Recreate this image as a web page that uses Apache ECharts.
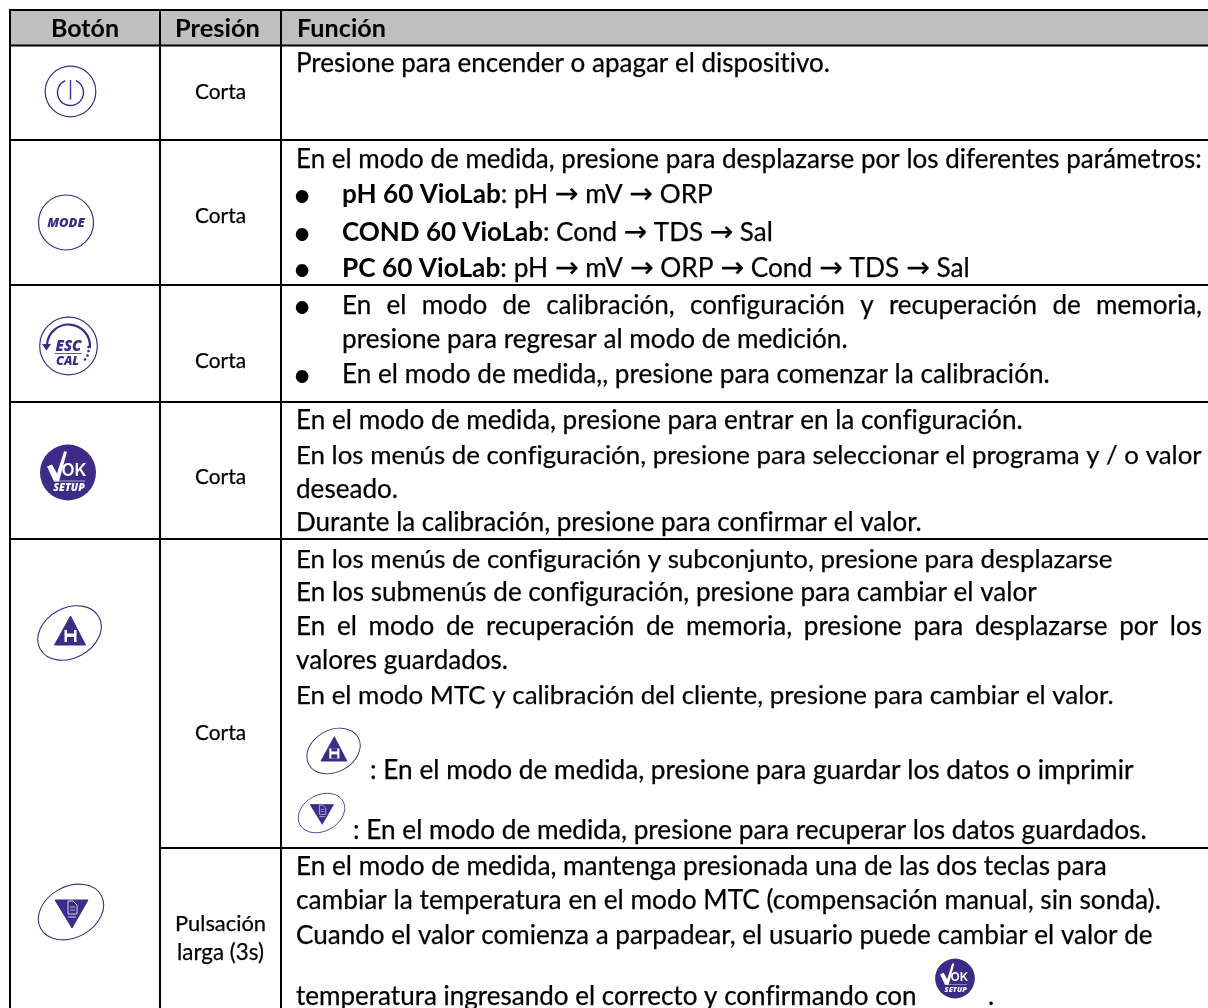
<!DOCTYPE html>
<html><head><meta charset="utf-8">
<style>html,body{margin:0;padding:0;background:#fff}#c{width:1208px;height:1008px}</style>
<script src="https://cdn.jsdelivr.net/npm/echarts@6/dist/echarts.min.js"></script>
</head><body><div id="c"></div>
<script>
// Calibri-style text has no ti/fi ligatures: a tiny letter spacing switches them off in canvas text
const nativeGetContext = HTMLCanvasElement.prototype.getContext;
HTMLCanvasElement.prototype.getContext = function () {
  const ctx = nativeGetContext.apply(this, arguments);
  if (ctx && 'letterSpacing' in ctx) ctx.letterSpacing = '0.001px';
  return ctx;
};
// ---- content
const headers = ['Botón', 'Presión', 'Función'];
const pressLabels = ['Corta', 'Corta', 'Corta', 'Corta', 'Corta', 'Pulsación', 'larga (3s)'];
const functionLines = [
  'Presione para encender o apagar el dispositivo.',
  'En el modo de medida, presione para desplazarse por los diferentes parámetros:',
  '**pH 60 VioLab**: pH → mV → ORP',
  '**COND 60 VioLab**: Cond → TDS → Sal',
  '**PC 60 VioLab**: pH → mV → ORP → Cond → TDS → Sal',
  'En el modo de calibración, configuración y recuperación de memoria,',
  'presione para regresar al modo de medición.',
  'En el modo de medida,, presione para comenzar la calibración.',
  'En el modo de medida, presione para entrar en la configuración.',
  'En los menús de configuración, presione para seleccionar el programa y / o valor',
  'deseado.',
  'Durante la calibración, presione para confirmar el valor.',
  'En los menús de configuración y subconjunto, presione para desplazarse',
  'En los submenús de configuración, presione para cambiar el valor',
  'En el modo de recuperación de memoria, presione para desplazarse por los',
  'valores guardados.',
  'En el modo MTC y calibración del cliente, presione para cambiar el valor.',
  ': En el modo de medida, presione para guardar los datos o imprimir',
  ': En el modo de medida, presione para recuperar los datos guardados.',
  'En el modo de medida, mantenga presionada una de las dos teclas para',
  'cambiar la temperatura en el modo MTC (compensación manual, sin sonda).',
  'Cuando el valor comienza a parpadear, el usuario puede cambiar el valor de',
  'temperatura ingresando el correcto y confirmando con'
];
// ---- layout (separate from content)
const lineBase  = [72,168,203,241,277,314,348,383,429,464,498,531,568,601,635,669,704,779,839,875,909,944,1005];
const lineLeft  = [296,296,342,342,342,342,342,342,296,296,296,296,296,296,296,296,296,370,353,296,296,296,296];
const lineRight = [830,1202,713,773,970,1202,848,1050,1023,1202,398,922,1113,1037,1202,508,1114,1134,1147,1107,1161,1153,917];
const justified = [5,14];
const bulletLines = [2,3,4,5,7];
const hLines = [[10,10,1208],[10,45.5,1208],[10,140,1208],[10,285,1208],[10,402,1208],[10,539,1208],[160,848,1208]];
const vLines = [10,160,281];
const FONT = 'Lato', ARROW_FONT = '"DejaVu Sans"';
const INK = '#000', VIO = '#3c2b87';

const cv = document.createElement('canvas').getContext('2d');
const fontOf = (bold,size,fam) => (bold?'bold ':'') + size + 'px ' + (fam||FONT);
const mw = (s, bold, size, fam) => { cv.font = fontOf(bold,size,fam); return cv.measureText(s).width; };
function midOffset(size, bold, fam) {
  cv.font = fontOf(bold,size,fam); cv.textBaseline = 'middle';
  const m = cv.measureText('x'); cv.textBaseline = 'alphabetic';
  const a = m.alphabeticBaseline;
  return (a === undefined || a === 0) ? size * 0.3 : Math.abs(a);
}
const els = [];
function txt(s, x, base, size, bold, fam) {
  els.push({type:'text', silent:true, z:5, style:{text:s, x:x, y:base - midOffset(size,bold,fam), fill:INK,
    stroke:bold?null:INK, lineWidth:bold?0:0.25,
    font:fontOf(bold,size,fam), textAlign:'left', verticalAlign:'middle'}});
}
// split markup into bold / regular / arrow runs
function parseRuns(s) {
  const out=[];
  s.split('**').forEach((p,i)=>{
    p.split(/(→)/).forEach(q=>{ if(q) out.push({t:q, bold:i%2===1, arrow:q==='→'}); });
  });
  return out;
}
const ARROW_SCALE = 1.08;
const runW = (r,size) => r.arrow ? mw(r.t,false,size*ARROW_SCALE,ARROW_FONT) : mw(r.t,r.bold,size);
// header band
els.push({type:'rect', z:1, silent:true, shape:{x:10,y:10,width:1198,height:35.5}, style:{fill:'#bfbfbf'}});
// rules
hLines.forEach(h=>els.push({type:'rect', z:3, silent:true, shape:{x:h[0]-1,y:h[1]-1,width:h[2]-h[0]+1,height:2}, style:{fill:'#000'}}));
vLines.forEach(x=>els.push({type:'rect', z:3, silent:true, shape:{x:x-1,y:9,width:2,height:999}, style:{fill:'#000'}}));
// header text
function fitText(s, l, r, base, bold) {
  txt(s, l, base, 100*(r-l)/mw(s,bold,100), bold);
}
fitText(headers[0], 51, 119, 37, true);
fitText(headers[1], 175, 260, 37, true);
fitText(headers[2], 297, 386, 37, true);
// press column
const pressBox = [[195,246,99],[195,246,223],[195,246,368],[195,246,484],[195,246,740],[175,266,931],[177,264,960]];
pressLabels.forEach((s,i)=>fitText(s,pressBox[i][0],pressBox[i][1],pressBox[i][2],false));
// function lines
const bodySize = 100*(lineRight[13]-lineLeft[13])/mw(functionLines[13],false,100);
functionLines.forEach((line,i)=>{
  const L=lineLeft[i], R=lineRight[i], B=lineBase[i];
  if(justified.includes(i)){
    const words=line.split(' ');
    const sum=words.reduce((a,w)=>a+mw(w,false,bodySize),0), gap=(R-L-sum)/(words.length-1);
    let x=L; words.forEach(w=>{txt(w,x,B,bodySize,false); x+=mw(w,false,bodySize)+gap;});
  } else {
    const runs=parseRuns(line);
    const total=runs.reduce((a,r)=>a+runW(r,100),0);
    const size=100*(R-L)/total;
    let x=L; runs.forEach(r=>{
      if(r.arrow) txt(r.t,x,B,size*ARROW_SCALE,false,ARROW_FONT); else txt(r.t,x,B,size,r.bold);
      x+=runW(r,size);
    });
  }
});
txt('.', 988, 1005, bodySize, false);
bulletLines.forEach(i=>els.push({type:'text', silent:true, z:5, style:{text:'•', x:302, y:lineBase[i]-7, fill:INK, font:'34px '+FONT, textAlign:'center', verticalAlign:'middle'}}));

// ---- icons
const lbl=(s,x,y,size,fill,w)=>({type:'text',style:{text:s,x:x,y:y,fill:fill,font:'italic '+(w||'bold')+' '+size+'px "Open Sans"',textAlign:'center',verticalAlign:'middle'}});
const ring=(r,lw)=>({type:'circle',shape:{cx:0,cy:0,r:r},style:{fill:'#fff',stroke:VIO,lineWidth:lw||1.2}});
function icon(x,y,s,children){els.push({type:'group',silent:true,z:6,x:x,y:y,scaleX:s,scaleY:s,children:children});}
// power
icon(70.5,91.5,1,[ring(25.3),
  {type:'arc',shape:{cx:0,cy:1,r:13,startAngle:-Math.PI/2+0.42,endAngle:-Math.PI/2-0.42,clockwise:true},style:{fill:'none',stroke:VIO,lineWidth:1.4}},
  {type:'line',shape:{x1:0,y1:-11.5,x2:0,y2:8},style:{stroke:VIO,lineWidth:1.4}}]);
// mode
icon(66,222.5,1,[ring(27.5),lbl('MODE',0,0.5,13,VIO,'800')]);
// esc/cal
icon(68.5,346,1,[ring(28.8),
  {type:'arc',shape:{cx:0,cy:0,r:21.5,startAngle:Math.PI*1.02,endAngle:Math.PI*2.03,clockwise:true},style:{fill:'none',stroke:VIO,lineWidth:2.2}},
  {type:'polygon',shape:{points:[[-26.5,-2],[-17.5,-2],[-22,4.5]]},style:{fill:VIO}},
  lbl('ESC',0,1,15,VIO,'800'),
  {type:'line',shape:{x1:-14,y1:7.5,x2:13,y2:7.5},style:{stroke:VIO,lineWidth:0.8}},
  lbl('CAL',-1,15,12.5,VIO,'800'),
  {type:'circle',shape:{cx:20,cy:5,r:1.3},style:{fill:VIO}},{type:'circle',shape:{cx:19,cy:9.5,r:1.3},style:{fill:VIO}},
  {type:'circle',shape:{cx:16.5,cy:13.5,r:1.3},style:{fill:VIO}},{type:'circle',shape:{cx:20,cy:1,r:1.3},style:{fill:VIO}}]);
// ok/setup
const okKids=[{type:'circle',shape:{cx:0,cy:0,r:28},style:{fill:VIO}},
  {type:'polygon',shape:{points:[[-21,-6],[-16,-8],[-11,1],[-4,-21],[-1,-21],[-9,9],[-14,9]]},style:{fill:'#fff'}},
  {type:'text',style:{text:'OK',x:6,y:-1.5,fill:'#fff',font:'600 17px Inter',textAlign:'center',verticalAlign:'middle'}},
  {type:'line',shape:{x1:-14,y1:8.5,x2:17,y2:8.5},style:{stroke:'#cfc8e8',lineWidth:0.8}},
  lbl('SETUP',1,16,10.5,'#fff','800')];
icon(68,472.5,1,okKids);
icon(955,978.5,0.71,okKids);
// up / save
const upKids=[{type:'ellipse',shape:{cx:0,cy:0,rx:33.5,ry:25},rotation:0.5,style:{fill:'#fff',stroke:VIO,lineWidth:1.1}},
  {type:'polygon',shape:{points:[[1,-17],[16,12],[-15,12]]},style:{fill:VIO,stroke:VIO,lineWidth:1,lineJoin:'round'}},
  {type:'rect',shape:{x:-5,y:-3,width:12,height:12},style:{fill:'#fff'}},
  {type:'rect',shape:{x:-2.5,y:-3,width:7,height:3.5},style:{fill:VIO}},
  {type:'rect',shape:{x:-2.5,y:4,width:7,height:5},style:{fill:VIO}}];
icon(69.5,633,1,upKids);
icon(333.5,751,0.84,upKids);
// down / recall
const downKids=[{type:'ellipse',shape:{cx:0,cy:0,rx:34.5,ry:25.5},rotation:0.5,style:{fill:'#fff',stroke:VIO,lineWidth:1.1}},
  {type:'polygon',shape:{points:[[-16,-12],[17,-12],[1,16]]},style:{fill:VIO,stroke:VIO,lineWidth:1,lineJoin:'round'}},
  {type:'polyline',shape:{points:[[-3,-11],[2,-11],[6,-7],[6,2],[-3,2],[-3,-11]]},style:{fill:'none',stroke:'#d8d3ef',lineWidth:1}},
  {type:'line',shape:{x1:-1,y1:-5,x2:4,y2:-5},style:{stroke:'#d8d3ef',lineWidth:0.8}},
  {type:'line',shape:{x1:-1,y1:-2,x2:4,y2:-2},style:{stroke:'#d8d3ef',lineWidth:0.8}},
  {type:'line',shape:{x1:-3,y1:5,x2:5,y2:5},style:{stroke:'#d8d3ef',lineWidth:1}}];
icon(71,912,1,downKids);
icon(321.5,813,0.71,downKids);

const chart = echarts.init(document.getElementById('c'), null, {renderer:'canvas'});
chart.setOption({animation:false, backgroundColor:'#fff', graphic:{elements:els}});
</script></body></html>
